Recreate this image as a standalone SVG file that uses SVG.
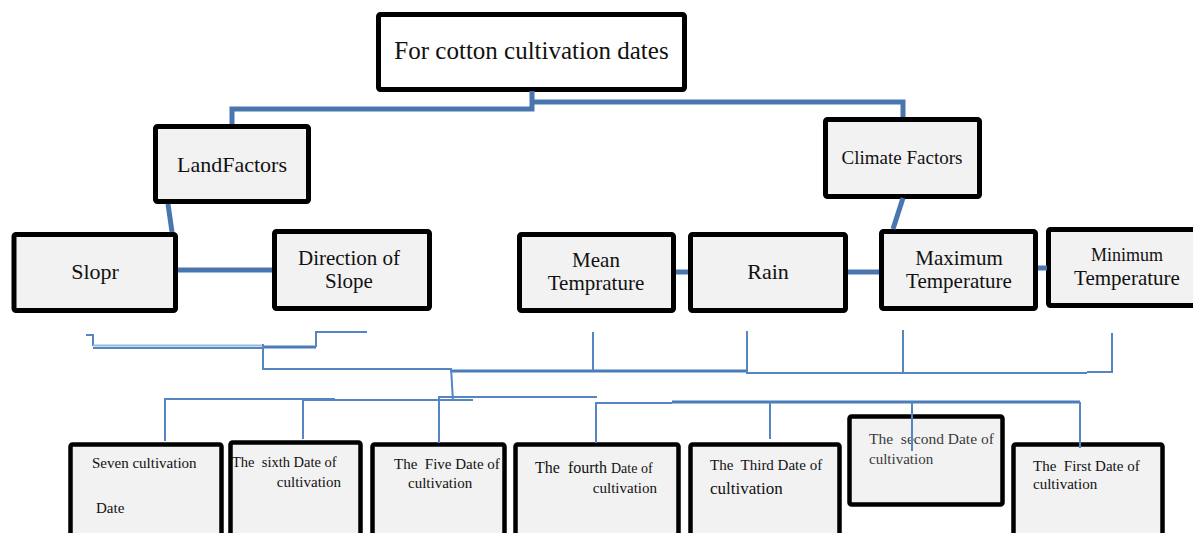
<svg xmlns="http://www.w3.org/2000/svg" width="1193" height="533" viewBox="0 0 1193 533">
<style>
.box{fill:#f2f2f2;stroke:#000;stroke-width:5}
.top{fill:#fff;stroke:#000;stroke-width:5}
.bb{fill:#f2f2f2;stroke:#000;stroke-width:4.5}
text{font-family:"Liberation Serif","DejaVu Serif","Noto Serif",serif;fill:#111}
.c{text-anchor:middle}
.pre{white-space:pre}
.thick{fill:none;stroke:#4a76b0;stroke-width:5}
.mid{fill:none;stroke:#4a7cba;stroke-width:3}
.thin{fill:none;stroke:#5585c2;stroke-width:2}
.light{fill:none;stroke:#9ab8dd;stroke-width:2}
</style>
<rect width="1193" height="533" fill="#fff"/>

<g id="n-root"><rect class="top" x="378.5" y="14.5" width="306" height="75" rx="2"/>
<text class="c" x="531.5" y="59" font-size="25">For cotton cultivation dates</text></g>

<g id="n-land"><rect class="box" x="155.5" y="126.5" width="153" height="75" rx="2"/>
<text class="c" x="232" y="172" font-size="22">LandFactors</text></g>

<g id="n-climate"><rect class="box" x="825.5" y="119.5" width="154" height="77" rx="2"/>
<text class="c" x="902" y="164" font-size="19">Climate Factors</text></g>

<g id="n-slopr"><rect class="box" x="14" y="234.5" width="161.5" height="76" rx="2"/>
<text class="c" x="95" y="279" font-size="22">Slopr</text></g>

<g id="n-direction"><rect class="box" x="274.5" y="231.5" width="155" height="77" rx="2"/>
<text class="c" x="349" y="265" font-size="21">Direction of</text>
<text class="c" x="349" y="288" font-size="21">Slope</text></g>

<g id="n-mean"><rect class="box" x="519.5" y="234.5" width="154" height="76" rx="2"/>
<text class="c" x="596" y="267" font-size="21">Mean</text>
<text class="c" x="596" y="290" font-size="21">Temprature</text></g>

<g id="n-rain"><rect class="box" x="690.5" y="234.5" width="155" height="76" rx="2"/>
<text class="c" x="768" y="279" font-size="22">Rain</text></g>

<g id="n-max"><rect class="box" x="881.5" y="231.5" width="154" height="77" rx="2"/>
<text class="c" x="959" y="265" font-size="21">Maximum</text>
<text class="c" x="959" y="288" font-size="21">Temperature</text></g>

<g id="n-min"><rect class="box" x="1048.5" y="229.5" width="152" height="76" rx="2"/>
<text class="c" x="1127" y="261" font-size="18">Minimum</text>
<text class="c" x="1127" y="285" font-size="21">Temperature</text></g>

<g id="n-d7"><rect class="bb" x="70.5" y="444.5" width="151" height="100" rx="2"/>
<text x="92" y="468" font-size="15">Seven cultivation</text>
<text x="96" y="513" font-size="15">Date</text></g>

<g id="n-d6"><rect class="bb" x="230.5" y="442.5" width="130" height="100" rx="2"/>
<text class="pre" x="232" y="467" font-size="14.5">The  sixth Date of</text>
<text x="341" y="487" font-size="15" text-anchor="end">cultivation</text></g>

<g id="n-d5"><rect class="bb" x="372.5" y="444.5" width="132" height="100" rx="2"/>
<text class="pre" x="394" y="469" font-size="15">The  Five Date of</text>
<text x="408" y="488" font-size="15">cultivation</text></g>

<g id="n-d4"><rect class="bb" x="515.5" y="444.5" width="163" height="100" rx="2"/>
<text class="pre" x="535" y="473" font-size="16">The  fourth <tspan font-size="14">Date of</tspan></text>
<text x="657" y="493" font-size="15" text-anchor="end">cultivation</text></g>

<g id="n-d3"><rect class="bb" x="690.5" y="444.5" width="149" height="100" rx="2"/>
<text class="pre" x="710" y="470" font-size="15">The  Third Date of</text>
<text x="710" y="494" font-size="17">cultivation</text></g>

<g id="n-d2"><rect class="bb" x="849.5" y="416.5" width="153" height="88" rx="2"/>
<text class="pre" x="869" y="444" font-size="15.5" style="fill:#3a3a3a">The  second Date of</text>
<text x="869" y="464" font-size="15" style="fill:#3a3a3a">cultivation</text></g>

<g id="n-d1"><rect class="bb" x="1013.5" y="444.5" width="149" height="100" rx="2"/>
<text class="pre" x="1033" y="471" font-size="15">The  First Date of</text>
<text x="1033" y="489" font-size="15">cultivation</text></g>

<g id="connectors">
<path class="thick" d="M532,91 V109 H232 V124"/>
<path class="thick" d="M532,102 H903 V117"/>
<path class="thick" d="M168,204 L172,232"/>
<path class="thick" stroke-width="4" d="M903,198 L893,229"/>
<path class="thick" d="M178,270 H272"/>
<path class="thick" d="M676,272 H688"/>
<path class="thick" d="M848,272 H879"/>
<path class="thick" d="M1038,268 H1047"/>

<path class="thin" d="M86,335 H93 V346"/>
<path class="light" d="M93,345.5 H263"/>
<path class="thin" d="M93,348 H263"/>
<path class="mid" d="M263,347 H316"/>
<path class="thin" d="M316,347 V332 H367"/>
<path class="thin" d="M263,344 V369 H450"/>
<path class="mid" stroke-width="3.5" d="M450,371 H746"/>
<path class="thin" d="M746,373 H1087"/>
<path class="thin" d="M1087,372 H1112 V333"/>
<path class="thin" d="M593,332 V371"/>
<path class="thin" stroke-width="2.5" d="M747,331 V372"/>
<path class="thin" d="M903,330 V372"/>
<path class="thin" d="M451,368 L453,401"/>
<path class="thin" d="M165,441 V399 H335"/>
<path class="thin" d="M303,439 V400 H473"/>
<path class="thin" d="M439,443 V397 H597"/>
<path class="thin" d="M596,443 V403 H672"/>
<path class="mid" d="M672,402 H1080"/>
<path class="thin" d="M770,402 V439"/>
<path class="thin" d="M912,402 V451"/>
<path class="thin" stroke-width="2.5" d="M1080,402 V448"/>
</g>
</svg>
